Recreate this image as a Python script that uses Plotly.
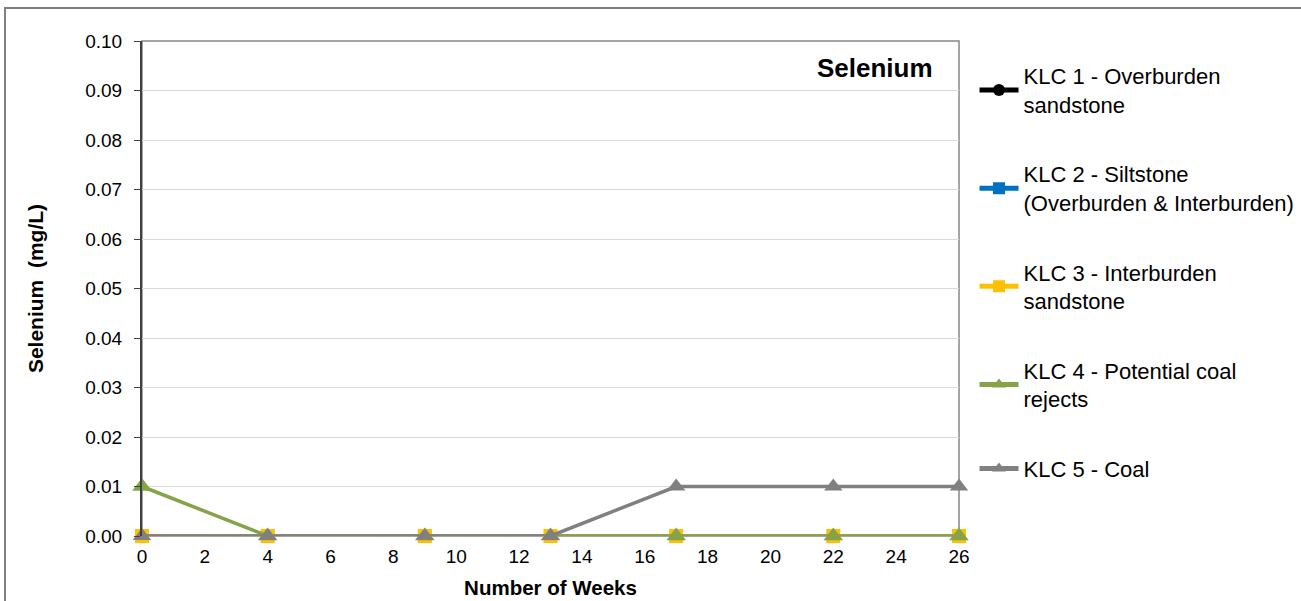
import plotly.graph_objects as go

# 주차 (weeks)
weeks = [0, 4, 9, 13, 17, 22, 26]

series_names = [
    "KLC 1 - Overburden<br>sandstone",
    "KLC 2 - Siltstone<br>(Overburden & Interburden)",
    "KLC 3 - Interburden<br>sandstone",
    "KLC 4 - Potential coal<br>rejects",
    "KLC 5 - Coal",
]
klc1 = [0, 0, 0, 0, 0, 0, 0]
klc2 = [0, 0, 0, 0, 0, 0, 0]
klc3 = [0, 0, 0, 0, 0, 0, 0]
klc4 = [0.01, 0, 0, 0, 0, 0, 0]
klc5 = [0, 0, 0, 0, 0.01, 0.01, 0.01]

y_ticks = [0.00, 0.01, 0.02, 0.03, 0.04, 0.05, 0.06, 0.07, 0.08, 0.09, 0.10]
x_ticks = list(range(0, 27, 2))

colors = ["#000000", "#0070C0", "#FFC000", "#86A34A", "#808080"]
symbols = ["circle", "square", "square", "triangle-up", "triangle-up"]
sizes = [11, 13, 14, 17, 16]

FONT = "Liberation Sans, Arial, sans-serif"

fig = go.Figure()
for i, (name, vals) in enumerate(zip(series_names, [klc1, klc2, klc3, klc4, klc5])):
    fig.add_trace(go.Scatter(
        x=weeks, y=vals, name=name, mode="lines+markers",
        line=dict(color=colors[i], width=3.5),
        marker=dict(symbol=symbols[i], size=sizes[i], color=colors[i]),
        legendgroup=f"g{i}", cliponaxis=False,
    ))

# 플롯 영역 테두리 / 차트 외곽 테두리
fig.add_shape(type="rect", xref="x domain", yref="y domain", x0=0, x1=1, y0=0, y1=1,
              line=dict(color="#868686", width=1.5), layer="below")
fig.add_shape(type="rect", xref="paper", yref="paper",
              x0=-0.1677, x1=1.45, y0=-0.16, y1=1.0667,
              line=dict(color="#7F7F7F", width=2), layer="below")

fig.add_annotation(text="<b>Selenium</b>", xref="x domain", yref="y domain",
                   x=0.971, y=0.945, xanchor="right", yanchor="middle", showarrow=False,
                   font=dict(family=FONT, size=26, color="#000000"))

fig.update_layout(
    width=1301, height=601,
    margin=dict(l=142, r=342, t=41, b=65, autoexpand=False),
    paper_bgcolor="white", plot_bgcolor="white",
    font=dict(family=FONT, size=19, color="#000000"),
    showlegend=True,
    legend=dict(
        x=1.019, y=0.972, xanchor="left", yanchor="top",
        font=dict(family=FONT, size=22, color="#000000"),
        tracegroupgap=38, itemwidth=39, itemsizing="constant", bgcolor="rgba(0,0,0,0)",
    ),
    xaxis=dict(
        range=[0, 26], tickvals=x_ticks, showgrid=False, zeroline=False,
        showline=False, ticks="", ticklabelstandoff=7, automargin=False,
        tickfont=dict(family=FONT, size=19),
        title=dict(text="<b>Number of Weeks</b>", font=dict(family=FONT, size=20.5), standoff=14),
    ),
    yaxis=dict(
        range=[0, 0.1], tickvals=y_ticks, tickformat=".2f", automargin=False,
        showgrid=True, gridcolor="#D9D9D9", gridwidth=1, zeroline=False,
        showline=True, linecolor="#404040", linewidth=2,
        ticks="outside", ticklen=6, tickcolor="#404040", ticklabelstandoff=8,
        tickfont=dict(family=FONT, size=19),
        title=dict(text="<b>Selenium\u00a0 (mg/L)</b>", font=dict(family=FONT, size=21), standoff=36),
    ),
)

fig.write_html("out.html", config={"displayModeBar": False},
               post_script="document.body.style.margin='0';")
